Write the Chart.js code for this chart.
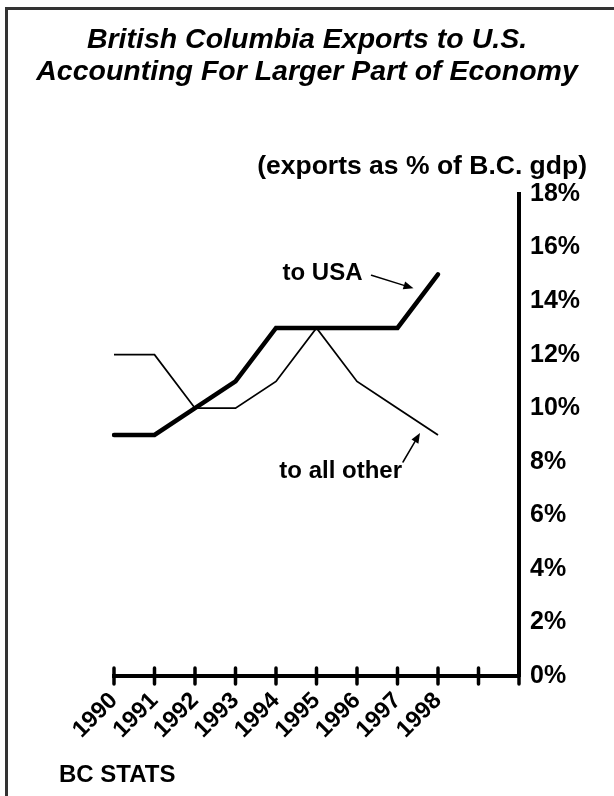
<!DOCTYPE html>
<html>
<head>
<meta charset="utf-8">
<script src="https://cdn.jsdelivr.net/npm/chart.js@4/dist/chart.umd.min.js"></script>
<style>
  html, body { margin: 0; padding: 0; background: #fff; }
  #wrap { position: relative; width: 614px; height: 796px; }
</style>
</head>
<body>
<div id="wrap"><canvas id="c" width="614" height="796"></canvas></div>
<script>
// ---- data ----
const years = ['1990','1991','1992','1993','1994','1995','1996','1997','1998','',''];
const toUSA = [9, 9, 10, 11, 13, 13, 13, 13, 15];
const toAllOther = [12, 12, 10, 10, 11, 13, 11, 10, 9];
const yTicks = [0, 2, 4, 6, 8, 10, 12, 14, 16, 18];
const titleLines = ['British Columbia Exports to U.S.', 'Accounting For Larger Part of Economy'];
const subtitleText = '(exports as % of B.C. gdp)';
const sourceText = 'BC STATS';
const usaLabel = 'to USA';
const otherLabel = 'to all other';

const FONT = '"Liberation Sans", Arial, Helvetica, sans-serif';

function arrow(ctx, x1, y1, x2, y2) {
  ctx.save();
  ctx.strokeStyle = '#000';
  ctx.fillStyle = '#000';
  ctx.lineWidth = 1.5;
  const ang = Math.atan2(y2 - y1, x2 - x1);
  const hl = 10, hw = 4;
  const bx = x2 - hl * Math.cos(ang), by = y2 - hl * Math.sin(ang);
  ctx.beginPath(); ctx.moveTo(x1, y1); ctx.lineTo(bx, by); ctx.stroke();
  ctx.beginPath();
  ctx.moveTo(x2, y2);
  ctx.lineTo(bx + hw * Math.sin(ang), by - hw * Math.cos(ang));
  ctx.lineTo(bx - hw * Math.sin(ang), by + hw * Math.cos(ang));
  ctx.closePath(); ctx.fill();
  ctx.restore();
}

const overlay = {
  id: 'overlay',
  afterDraw(chart) {
    const ctx = chart.ctx;
    const xs = chart.scales.x, ys = chart.scales.y;
    ctx.save();
    // frame
    ctx.fillStyle = '#333';
    ctx.fillRect(5, 7, 609, 3);
    ctx.fillRect(5, 7, 3, 789);
    // x tick marks crossing the axis
    ctx.strokeStyle = '#000';
    ctx.lineWidth = 3.5;
    ctx.lineCap = 'round';
    const y0 = ys.getPixelForValue(0);
    for (let i = 0; i < years.length; i++) {
      const px = xs.getPixelForTick(i);
      ctx.beginPath(); ctx.moveTo(px, y0 - 8); ctx.lineTo(px, y0 + 8); ctx.stroke();
    }
    // titles
    ctx.fillStyle = '#000';
    ctx.textBaseline = 'middle';
    ctx.textAlign = 'center';
    ctx.font = 'italic bold 28.5px ' + FONT;
    ctx.fillText(titleLines[0], 307, 40);
    ctx.fillText(titleLines[1], 307, 72);
    ctx.textAlign = 'right';
    ctx.font = 'bold 26.5px ' + FONT;
    ctx.fillText(subtitleText, 587, 167);
    ctx.textAlign = 'left';
    ctx.font = 'bold 24px ' + FONT;
    ctx.fillText(sourceText, 59, 775);
    // annotations
    ctx.font = 'bold 24px ' + FONT;
    const ax = xs.getPixelForValue(7), ay = ys.getPixelForValue(15);
    ctx.textAlign = 'right';
    ctx.fillText(usaLabel, ax - 35, ay - 1);
    arrow(ctx, ax - 26, ay + 1, ax + 16, ay + 14);
    const bx = xs.getPixelForValue(8), by = ys.getPixelForValue(toAllOther[8]);
    ctx.fillText(otherLabel, bx - 36, by + 36);
    arrow(ctx, bx - 35, by + 27, bx - 18, by - 2);
    ctx.restore();
  }
};

new Chart(document.getElementById('c'), {
  type: 'line',
  data: {
    labels: years,
    datasets: [
      { label: 'to USA', data: toUSA, borderColor: '#000', borderWidth: 4.5,
        pointRadius: 0, tension: 0, borderCapStyle: 'round', borderJoinStyle: 'miter', fill: false },
      { label: 'to all other', data: toAllOther, borderColor: '#000', borderWidth: 1.8,
        pointRadius: 0, tension: 0, fill: false }
    ]
  },
  options: {
    responsive: false,
    animation: false,
    events: [],
    layout: { padding: { left: 114, right: 0, top: 194, bottom: 0 } },
    plugins: { legend: { display: false }, tooltip: { enabled: false }, title: { display: false } },
    scales: {
      x: {
        type: 'category',
        offset: false,
        grid: { display: false },
        border: { display: true, color: '#000', width: 4 },
        ticks: {
          autoSkip: false, minRotation: 45, maxRotation: 45, padding: 3,
          color: '#000', font: { family: FONT, size: 23.5, weight: 'bold' }
        },
        afterFit(scale) { scale.height = 120; }
      },
      y: {
        position: 'right',
        min: 0, max: 18,
        afterBuildTicks(scale) { scale.ticks = yTicks.map(v => ({ value: v })); },
        grid: { display: false, drawTicks: false },
        border: { display: true, color: '#000', width: 4 },
        ticks: {
          padding: 11, color: '#000',
          font: { family: FONT, size: 25, weight: 'bold' },
          callback: v => v + '%'
        },
        afterFit(scale) { scale.width = 95; }
      }
    }
  },
  plugins: [overlay]
});
</script>
</body>
</html>
